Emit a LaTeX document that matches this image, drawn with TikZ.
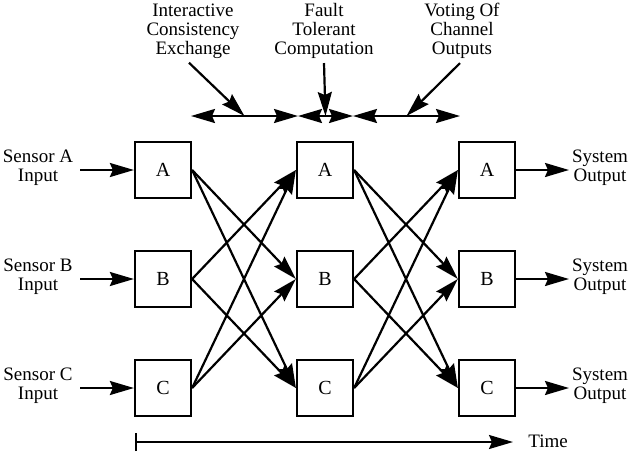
\documentclass[tikz,border=0pt]{standalone}
\usepackage{fontspec}
\setmainfont{Liberation Serif}
\usetikzlibrary{arrows.meta, calc}

\begin{document}
\begin{tikzpicture}[
    x=0.5pt, y=-0.5pt,
    chan/.style={rectangle, draw, line width=1.1pt, minimum size=28pt, inner sep=0pt, font=\fontsize{10}{10}\selectfont},
    lbl/.style={align=center, inner sep=0pt, font=\fontsize{9.5}{9.5}\selectfont},
    arrow/.style={-{Stealth[length=12pt,width=7pt,inset=1.5pt]}, line width=1.1pt},
    span/.style={{Stealth[length=12pt,width=7pt,inset=1.5pt]}-{Stealth[length=12pt,width=7pt,inset=1.5pt]}, line width=1.1pt}
]
\useasboundingbox (0,0) rectangle (638,456);

% Channel boxes: three rounds, three channels
\node[chan] (a1) at (163,170) {A};
\node[chan] (b1) at (163,279) {B};
\node[chan] (c1) at (163,388) {C};
\node[chan] (a2) at (325,170) {A};
\node[chan] (b2) at (325,279) {B};
\node[chan] (c2) at (325,388) {C};
\node[chan] (a3) at (487,170) {A};
\node[chan] (b3) at (487,279) {B};
\node[chan] (c3) at (487,388) {C};

% Inputs and outputs
\node[lbl] (sensA) at (38,168) {Sensor A\\Input};
\node[lbl] (sensB) at (38,277) {Sensor B\\Input};
\node[lbl] (sensC) at (38,386) {Sensor C\\Input};
\node[lbl] (outA) at (600,168) {System\\Output};
\node[lbl] (outB) at (600,277) {System\\Output};
\node[lbl] (outC) at (600,386) {System\\Output};
\coordinate (inA) at (80,170);
\coordinate (inB) at (80,279);
\coordinate (inC) at (80,388);
\coordinate (endA) at (569,170);
\coordinate (endB) at (569,279);
\coordinate (endC) at (569,388);

% Phase labels on top
\node[lbl] (ice) at (193,31) {Interactive\\Consistency\\Exchange};
\node[lbl] (ftc) at (324,31) {Fault\\Tolerant\\Computation};
\node[lbl] (voc) at (462,31) {Voting Of\\Channel\\Outputs};

% Phase line
\coordinate (t0) at (191,116);
\coordinate (t1) at (298,116);
\coordinate (t2) at (353,116);
\coordinate (t3) at (460,116);
\draw[span] (t0) -- (t1);
\draw[span] (t1) -- (t2);
\draw[span] (t2) -- (t3);
\draw[arrow] ([xshift=-2pt,yshift=-2pt]ice.south) -- ($(t0)!0.5!(t1)$);
\draw[arrow] ([yshift=-2pt]ftc.south) -- ($(t1)!0.5!(t2)$);
\draw[arrow] ([xshift=-1pt,yshift=-2pt]voc.south) -- ($(t2)!0.5!(t3)$);

% Arrows - inputs and outputs
\draw[arrow] (inA) -- (a1.west);
\draw[arrow] (inB) -- (b1.west);
\draw[arrow] (inC) -- (c1.west);
\draw[arrow] (a3.east) -- (endA);
\draw[arrow] (b3.east) -- (endB);
\draw[arrow] (c3.east) -- (endC);

% Arrows - exchange between channels
\draw[arrow] (a1.east) -- (b2.west);
\draw[arrow] (a1.east) -- (c2.west);
\draw[arrow] (b1.east) -- (a2.west);
\draw[arrow] (b1.east) -- (c2.west);
\draw[arrow] (c1.east) -- (a2.west);
\draw[arrow] (c1.east) -- (b2.west);

% Arrows - voting between channels
\draw[arrow] (a2.east) -- (b3.west);
\draw[arrow] (a2.east) -- (c3.west);
\draw[arrow] (b2.east) -- (a3.west);
\draw[arrow] (b2.east) -- (c3.west);
\draw[arrow] (c2.east) -- (a3.west);
\draw[arrow] (c2.east) -- (b3.west);

% Time axis
\coordinate (ts) at (135,442);
\coordinate (te) at (513,442);
\node[lbl, anchor=west] (time) at (528,441) {Time};
\draw[{Bar[width=9pt]}-{Stealth[length=12pt,width=7pt,inset=1.5pt]}, line width=0.9pt] (ts) -- (te);

\end{tikzpicture}
\end{document}
